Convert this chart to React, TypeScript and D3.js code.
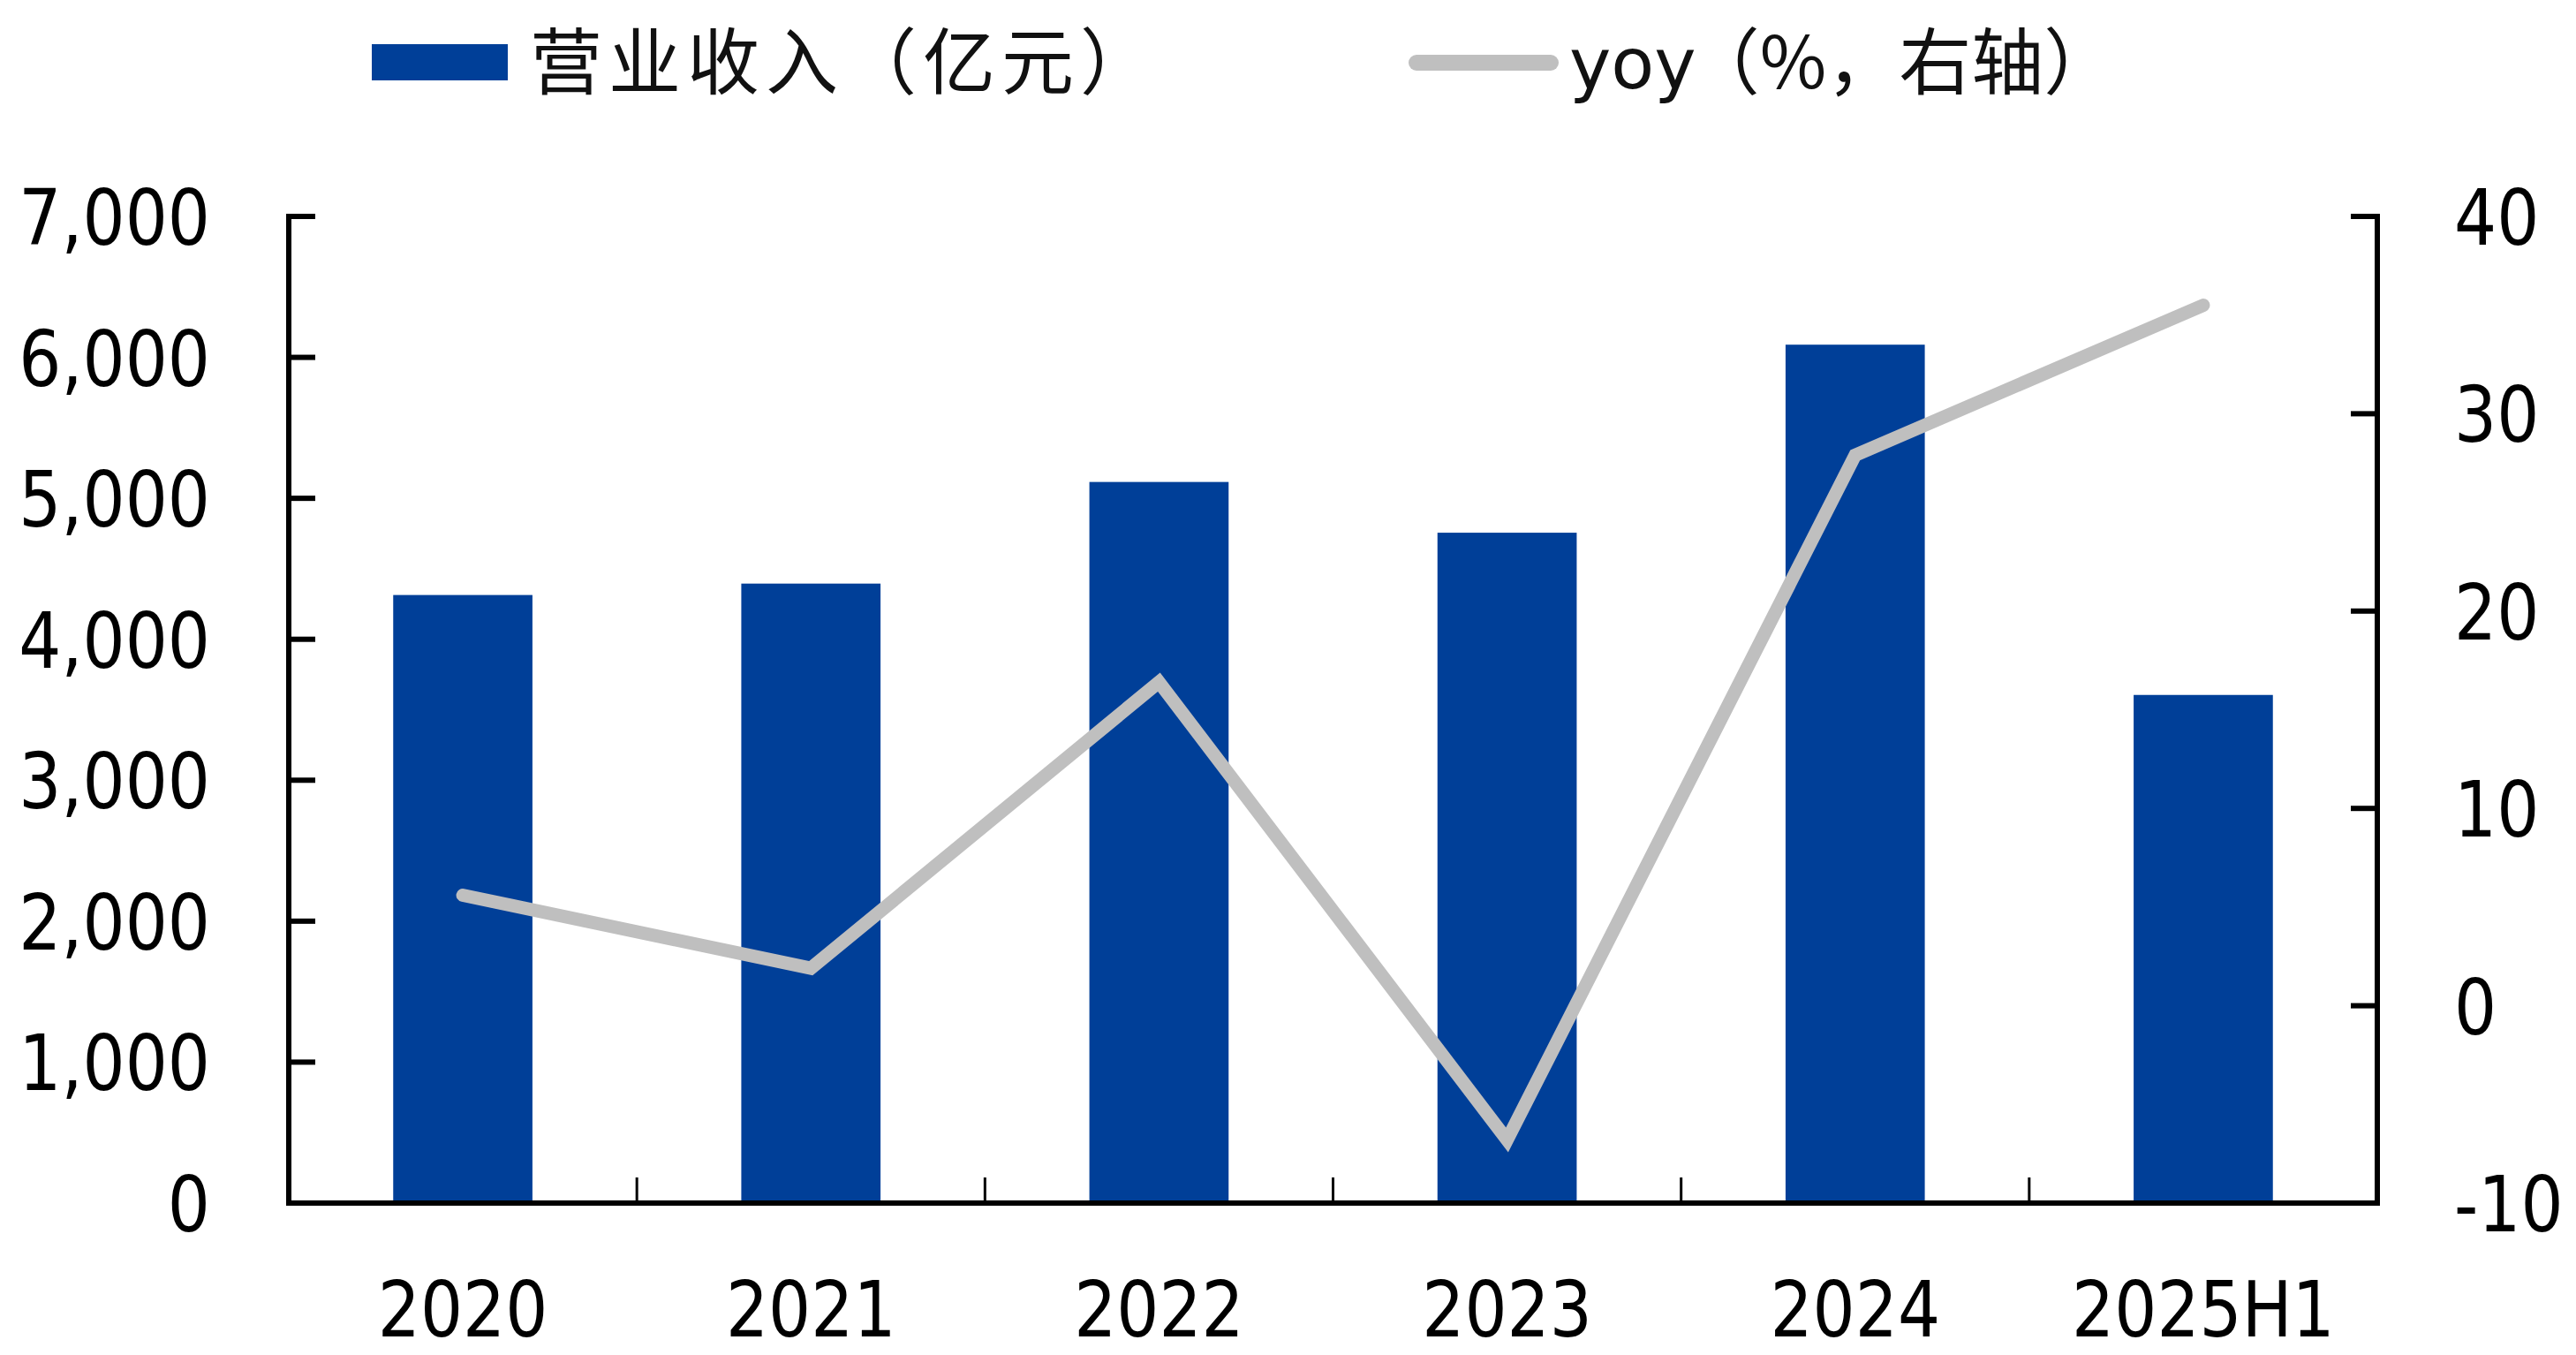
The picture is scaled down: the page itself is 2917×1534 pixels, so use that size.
import * as React from 'react';
import {scaleBand, scaleLinear, line} from 'd3';

const categories = ['2020', '2021', '2022', '2023', '2024', '2025H1'];
const revenue = [4314, 4395, 5116, 4756, 6090, 3605];
const yoy = [5.6, 1.9, 16.4, -6.8, 27.9, 35.5];
const leftTicks = [0, 1000, 2000, 3000, 4000, 5000, 6000, 7000];
const rightTicks = [-10, 0, 10, 20, 30, 40];
const barLabel = '营业收入（亿元）';
const lineLabel = 'yoy（%，右轴）';

const W = 2917;
const H = 1534;
const plot = {left: 327, right: 2692, top: 245, bottom: 1362};
const barColor = '#003f98';
const lineColor = '#bfbfbf';
const tickFont = 'DejaVu Sans, Verdana, sans-serif';
const cjkFont = '"Noto Sans CJK SC", "DejaVu Sans", sans-serif';

const xScale = scaleBand<string>()
    .domain(categories)
    .range([plot.left, plot.right])
    .paddingInner(0.6)
    .paddingOuter(0.3);

const yLeft = scaleLinear().domain([0, 7000]).range([plot.bottom, plot.top]);
const yRight = scaleLinear().domain([-10, 40]).range([plot.bottom, plot.top]);

const step = (plot.right - plot.left) / categories.length;
const center = (c: string) => xScale(c)! + xScale.bandwidth() / 2;

const yoyPath = line<number>()
    .x((_, i) => center(categories[i]))
    .y(d => yRight(d))(yoy)!;

const fmt = (v: number) => v.toLocaleString('en-US');

export default function App() {
    return (
        <svg width={W} height={H} style={{position: 'absolute', left: 0, top: 0, display: 'block', background: '#fff'}}>
            {/* legend */}
            <rect x={421} y={50} width={154} height={41} fill={barColor} />
            <text x={600} y={100} fontSize={82} letterSpacing={7} fontFamily={cjkFont} fill="#111">{barLabel}</text>
            <line x1={1604} x2={1756} y1={71} y2={71} stroke={lineColor} strokeWidth={18} strokeLinecap="round" />
            <text x={1777} y={100} fontSize={82} fontFamily={cjkFont} fill="#111">
                <tspan fontFamily={tickFont} fontSize={80} transform="scale(0.9,1)">yoy</tspan>
                <tspan dx={-10}>{lineLabel.slice(3)}</tspan>
            </text>

            {/* bars */}
            {revenue.map((v, i) => (
                <rect
                    key={categories[i]}
                    x={xScale(categories[i])}
                    y={yLeft(v)}
                    width={xScale.bandwidth()}
                    height={yLeft(0) - yLeft(v)}
                    fill={barColor}
                />
            ))}

            {/* yoy line */}
            <path d={yoyPath} fill="none" stroke={lineColor} strokeWidth={15} strokeLinejoin="miter" strokeLinecap="round" />

            {/* axes */}
            <g stroke="#000" strokeWidth={6}>
                <line x1={plot.left} x2={plot.left} y1={plot.top - 3} y2={plot.bottom + 3} />
                <line x1={plot.right} x2={plot.right} y1={plot.top - 3} y2={plot.bottom + 3} />
                <line x1={plot.left - 3} x2={plot.right + 3} y1={plot.bottom} y2={plot.bottom} />
                {leftTicks.map(t => (
                    <line key={'l' + t} x1={plot.left} x2={plot.left + 30} y1={yLeft(t)} y2={yLeft(t)} />
                ))}
                {rightTicks.map(t => (
                    <line key={'r' + t} x1={plot.right - 30} x2={plot.right} y1={yRight(t)} y2={yRight(t)} />
                ))}
            </g>
            <g stroke="#000" strokeWidth={3}>
                {categories.slice(1).map((c, i) => (
                    <line key={c} x1={plot.left + (i + 1) * step} x2={plot.left + (i + 1) * step} y1={plot.bottom - 29} y2={plot.bottom} />
                ))}
            </g>

            {/* tick labels */}
            <g fontFamily={tickFont} fontSize={88} fill="#000">
                {leftTicks.map(t => (
                    <text key={'lt' + t} textAnchor="end" transform={`translate(238, ${yLeft(t) + 32}) scale(0.86, 1)`}>{fmt(t)}</text>
                ))}
                {rightTicks.map(t => (
                    <text key={'rt' + t} textAnchor="start" transform={`translate(2779, ${yRight(t) + 32}) scale(0.86, 1)`}>{t}</text>
                ))}
                {categories.map(c => (
                    <text key={'x' + c} textAnchor="middle" transform={`translate(${center(c)}, 1513) scale(0.86, 1)`}>{c}</text>
                ))}
            </g>
        </svg>
    );
}
